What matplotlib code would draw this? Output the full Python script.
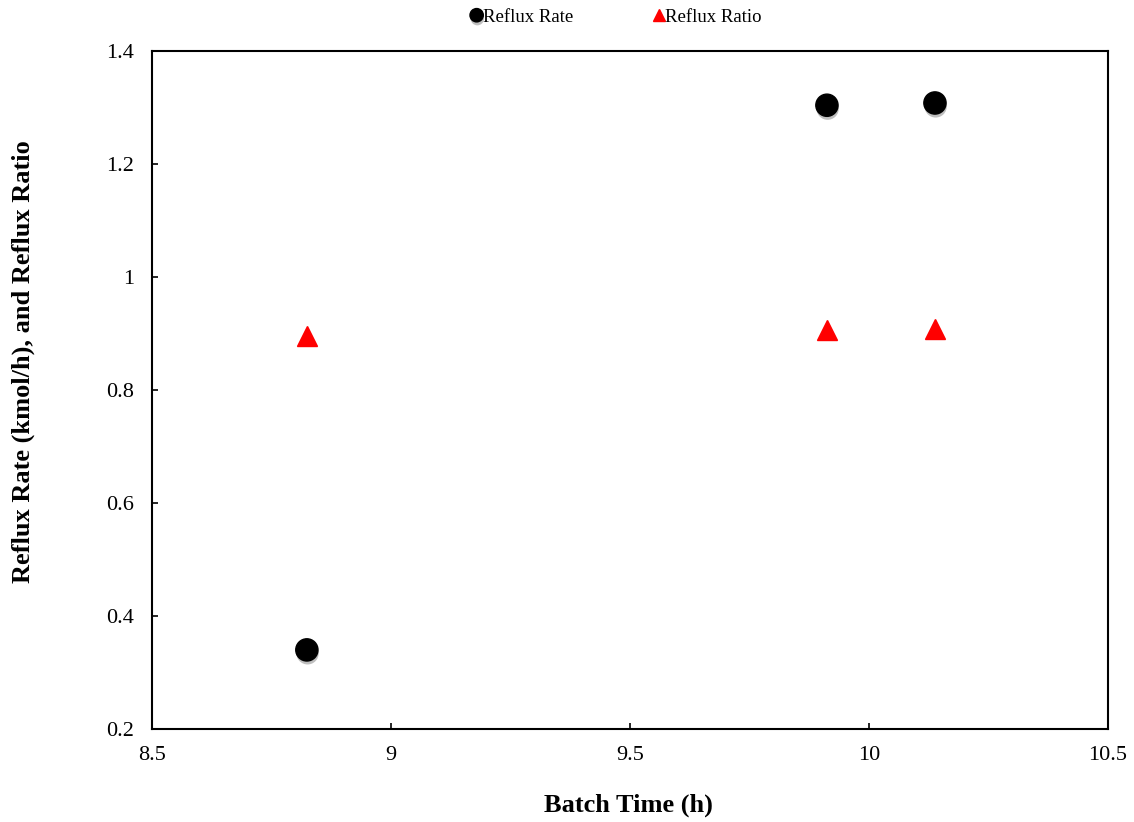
import matplotlib
matplotlib.use("Agg")
import matplotlib.pyplot as plt
import matplotlib.patheffects as pe

plt.rcParams['font.family'] = ['Liberation Serif', 'DejaVu Serif']

batch_time = [8.824, 9.912, 10.138]
reflux_rate = [0.340, 1.304, 1.308]
reflux_ratio = [0.896, 0.906, 0.908]

W, H = 1134, 822
fig = plt.figure(figsize=(W / 100, H / 100), dpi=100)
ax = fig.add_axes([152 / W, 1 - 729 / H, (1108 - 152) / W, (729 - 51) / H])

shadow = [pe.SimplePatchShadow(offset=(0.5, -2.5), shadow_rgbFace='black', alpha=0.25), pe.Normal()]

ax.plot(batch_time, reflux_rate, linestyle='none', marker='o', markersize=16,
        color='black', label='Reflux Rate', path_effects=shadow)
ax.plot(batch_time, reflux_ratio, linestyle='none', marker='^', markersize=14,
        color='red', label='Reflux Ratio')

ax.set_xlim(8.5, 10.5)
ax.set_ylim(0.2, 1.4)
ax.set_xticks([8.5, 9, 9.5, 10, 10.5])
ax.set_xticklabels(['8.5', '9', '9.5', '10', '10.5'])
ax.set_yticks([0.2, 0.4, 0.6, 0.8, 1.0, 1.2, 1.4])
ax.set_yticklabels(['0.2', '0.4', '0.6', '0.8', '1', '1.2', '1.4'])
ax.tick_params(direction='in', length=4, width=1.2, labelsize=16)
ax.tick_params(axis='x', pad=12)
ax.tick_params(axis='y', pad=13)
for s in ax.spines.values():
    s.set_linewidth(1.5)

fig.text(628 / W, 1 - 805 / H, 'Batch Time (h)', fontsize=19, fontweight='bold',
         ha='center', va='center')
fig.text(23 / W, 1 - 362 / H, 'Reflux Rate (kmol/h), and Reflux Ratio', fontsize=19,
         fontweight='bold', rotation=90, ha='center', va='center')

leg = fig.legend(loc='upper center', bbox_to_anchor=(0.544, 1.01), ncol=2, frameon=False,
                 fontsize=13.5, markerscale=0.6, handlelength=0.5, handletextpad=0.1,
                 columnspacing=4.3)

fig.savefig('out.png', dpi=100)
